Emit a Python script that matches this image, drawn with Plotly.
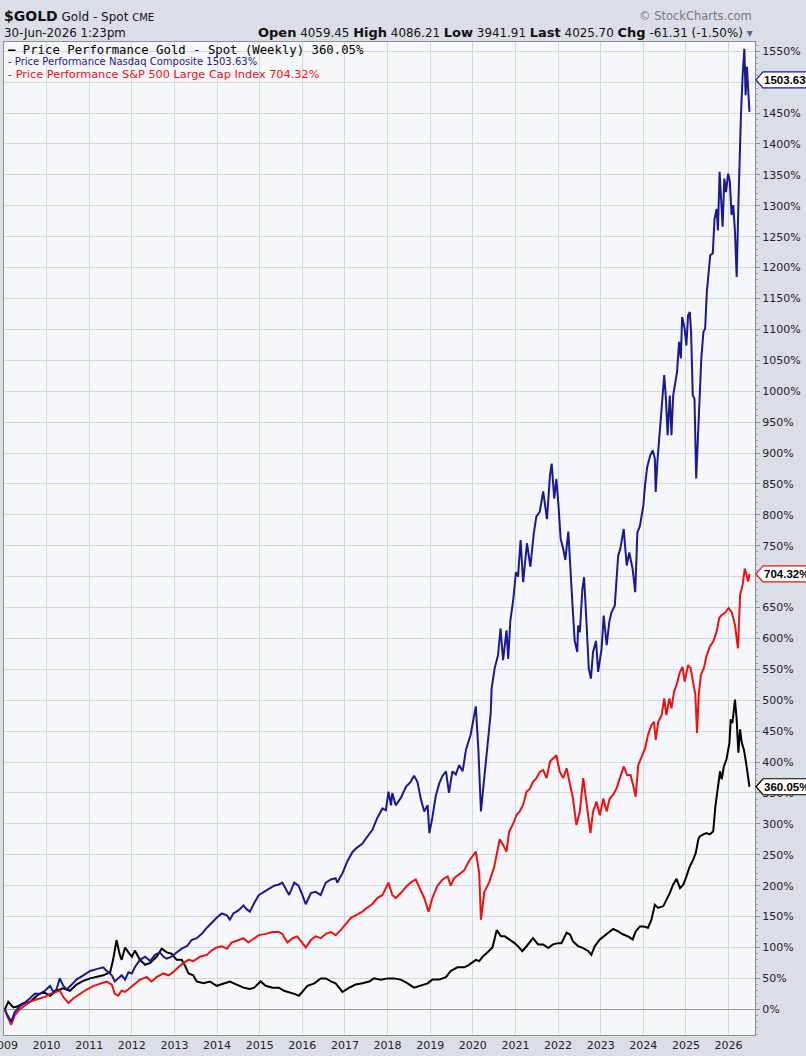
import plotly.graph_objects as go

# weekly price performance since Jan 2009 (decimal year, % change)
gold_years = [2009.02, 2009.10, 2009.22, 2009.33, 2009.45, 2009.61, 2009.77, 2009.92, 2010.08, 2010.23,
              2010.39, 2010.55, 2010.70, 2010.86, 2011.02, 2011.17, 2011.33, 2011.49, 2011.56, 2011.64,
              2011.71, 2011.76, 2011.84, 2011.92, 2012.00, 2012.07, 2012.19, 2012.31, 2012.43, 2012.58,
              2012.70, 2012.82, 2012.93, 2013.05, 2013.17, 2013.25, 2013.33, 2013.44, 2013.52, 2013.68,
              2013.83, 2013.99, 2014.15, 2014.30, 2014.46, 2014.62, 2014.77, 2014.87, 2015.02, 2015.14,
              2015.30, 2015.45, 2015.57, 2015.69, 2015.81, 2015.92, 2016.00, 2016.12, 2016.28, 2016.43,
              2016.55, 2016.67, 2016.78, 2016.94, 2017.10, 2017.25, 2017.41, 2017.57, 2017.68, 2017.84,
              2018.00, 2018.15, 2018.31, 2018.47, 2018.62, 2018.78, 2018.94, 2019.05, 2019.21, 2019.37,
              2019.48, 2019.64, 2019.80, 2019.91, 2020.07, 2020.15, 2020.23, 2020.34, 2020.46, 2020.56,
              2020.66, 2020.75, 2020.87, 2020.98, 2021.06, 2021.16, 2021.26, 2021.41, 2021.53, 2021.65,
              2021.77, 2021.88, 2022.00, 2022.08, 2022.20, 2022.28, 2022.35, 2022.47, 2022.59, 2022.71,
              2022.78, 2022.86, 2022.98, 2023.07, 2023.18, 2023.29, 2023.41, 2023.53, 2023.64, 2023.75,
              2023.82, 2023.92, 2024.01, 2024.11, 2024.19, 2024.27, 2024.35, 2024.47, 2024.54, 2024.62,
              2024.70, 2024.78, 2024.86, 2024.94, 2025.01, 2025.09, 2025.17, 2025.23, 2025.29, 2025.33,
              2025.41, 2025.48, 2025.56, 2025.64, 2025.69, 2025.76, 2025.80, 2025.84, 2025.89, 2025.95,
              2026.02, 2026.05, 2026.09, 2026.15, 2026.19, 2026.23, 2026.27, 2026.31, 2026.36, 2026.41,
              2026.45, 2026.49]
gold_pct = [0, 12, 3, 5, 10, 12, 22, 28, 22, 30,
            34, 30, 40, 46, 50, 53, 55, 60, 80, 112,
            90, 80, 100, 92, 85, 95, 80, 72, 75, 85,
            98, 92, 90, 80, 80, 70, 58, 55, 45, 42,
            45, 38, 42, 45, 40, 35, 33, 35, 45, 38,
            35, 35, 30, 28, 25, 22, 28, 38, 42, 50,
            50, 45, 42, 28, 35, 40, 42, 45, 50, 48,
            50, 50, 48, 42, 35, 38, 42, 48, 48, 52,
            62, 68, 68, 72, 80, 78, 85, 92, 100, 128,
            118, 118, 113, 107, 102, 94, 102, 115, 105, 105,
            99, 105, 107, 107, 124, 121, 110, 102, 99, 94,
            88, 102, 113, 118, 124, 130, 126, 121, 118, 113,
            126, 134, 134, 132, 145, 169, 164, 167, 177, 188,
            202, 211, 196, 202, 215, 231, 242, 253, 275, 280,
            283, 285, 283, 288, 328, 361, 385, 372, 393, 404,
            431, 469, 463, 501, 469, 415, 453, 431, 420, 399,
            377, 360.05]

nasdaq_years = [2009.02, 2009.07, 2009.17, 2009.25, 2009.37, 2009.48, 2009.61, 2009.72, 2009.84, 2009.96,
                2010.08, 2010.16, 2010.23, 2010.31, 2010.39, 2010.47, 2010.59, 2010.70, 2010.86, 2011.02,
                2011.17, 2011.33, 2011.41, 2011.53, 2011.60, 2011.68, 2011.76, 2011.84, 2011.92, 2012.00,
                2012.07, 2012.19, 2012.31, 2012.43, 2012.54, 2012.66, 2012.74, 2012.82, 2012.93, 2013.05,
                2013.17, 2013.29, 2013.40, 2013.52, 2013.64, 2013.76, 2013.87, 2013.99, 2014.11, 2014.23,
                2014.30, 2014.38, 2014.50, 2014.62, 2014.69, 2014.77, 2014.87, 2014.98, 2015.10, 2015.22,
                2015.34, 2015.45, 2015.53, 2015.61, 2015.69, 2015.81, 2015.91, 2016.00, 2016.08, 2016.20,
                2016.31, 2016.43, 2016.55, 2016.67, 2016.78, 2016.82, 2016.94, 2017.06, 2017.18, 2017.29,
                2017.41, 2017.53, 2017.64, 2017.76, 2017.88, 2017.96, 2018.02, 2018.08, 2018.11, 2018.19,
                2018.31, 2018.43, 2018.54, 2018.62, 2018.70, 2018.78, 2018.86, 2018.94, 2018.98, 2019.05,
                2019.13, 2019.21, 2019.29, 2019.37, 2019.44, 2019.52, 2019.60, 2019.68, 2019.76, 2019.84,
                2019.95, 2020.07, 2020.13, 2020.19, 2020.27, 2020.34, 2020.42, 2020.44, 2020.51, 2020.59,
                2020.65, 2020.71, 2020.79, 2020.83, 2020.88, 2020.95, 2021.01, 2021.06, 2021.12, 2021.18,
                2021.27, 2021.35, 2021.43, 2021.49, 2021.57, 2021.65, 2021.69, 2021.74, 2021.81, 2021.85,
                2021.91, 2021.96, 2022.01, 2022.06, 2022.12, 2022.17, 2022.24, 2022.28, 2022.31, 2022.35,
                2022.39, 2022.45, 2022.47, 2022.51, 2022.57, 2022.61, 2022.67, 2022.72, 2022.77, 2022.82,
                2022.89, 2022.94, 2023.02, 2023.07, 2023.14, 2023.20, 2023.25, 2023.33, 2023.41, 2023.46,
                2023.54, 2023.61, 2023.67, 2023.75, 2023.81, 2023.86, 2023.92, 2024.00, 2024.04, 2024.09,
                2024.16, 2024.22, 2024.27, 2024.29, 2024.33, 2024.39, 2024.43, 2024.49, 2024.53, 2024.57,
                2024.62, 2024.66, 2024.70, 2024.74, 2024.79, 2024.84, 2024.88, 2024.91, 2024.97, 2025.01,
                2025.05, 2025.09, 2025.12, 2025.16, 2025.20, 2025.24, 2025.28, 2025.32, 2025.36, 2025.41,
                2025.45, 2025.49, 2025.53, 2025.57, 2025.63, 2025.67, 2025.72, 2025.75, 2025.79, 2025.83,
                2025.86, 2025.90, 2025.94, 2025.99, 2026.03, 2026.07, 2026.11, 2026.15, 2026.19, 2026.23,
                2026.26, 2026.29, 2026.33, 2026.37, 2026.40, 2026.43, 2026.49]
nasdaq_pct = [0, -8, -20, -5, 5, 10, 18, 25, 25, 30,
              38, 28, 32, 50, 38, 32, 40, 48, 55, 62,
              65, 68, 62, 55, 45, 50, 55, 48, 60, 58,
              68, 80, 85, 78, 88, 92, 85, 82, 85, 92,
              98, 102, 112, 115, 122, 132, 140, 148, 155, 152,
              145, 155, 160, 168, 162, 158, 172, 185, 190, 195,
              200, 202, 205, 195, 185, 205, 200, 185, 170, 188,
              190, 185, 205, 210, 212, 205, 220, 240, 255, 262,
              268, 280, 290, 310, 325, 322, 352, 330, 350, 330,
              342, 360, 368, 378, 368, 340, 320, 330, 285, 310,
              345, 365, 378, 385, 350, 385, 380, 395, 385, 420,
              445, 490, 420, 320, 380, 420, 480, 519, 551, 573,
              616, 565, 613, 567, 629, 664, 707, 700, 759, 691,
              754, 716, 770, 797, 805, 838, 819, 793, 864, 883,
              826, 858, 815, 761, 745, 727, 773, 731, 688, 640,
              596, 578, 621, 610, 680, 699, 621, 551, 535, 578,
              596, 546, 583, 637, 589, 626, 642, 653, 734, 745,
              777, 718, 739, 712, 675, 771, 782, 815, 848, 877,
              896, 904, 891, 837, 886, 937, 985, 1026, 988, 929,
              993, 929, 993, 1010, 1031, 1080, 1053, 1120, 1101, 1074,
              1123, 1128, 1096, 993, 988, 859, 923, 999, 1053, 1096,
              1101, 1161, 1193, 1220, 1223, 1279, 1295, 1260, 1355, 1306,
              1266, 1344, 1322, 1352, 1339, 1285, 1301, 1258, 1185, 1301,
              1403, 1446, 1511, 1554, 1479, 1525, 1452]

spx_years = [2009.02, 2009.07, 2009.17, 2009.25, 2009.37, 2009.48, 2009.61, 2009.72, 2009.84, 2009.96,
             2010.08, 2010.20, 2010.31, 2010.39, 2010.51, 2010.63, 2010.78, 2010.94, 2011.10, 2011.25,
             2011.41, 2011.53, 2011.60, 2011.68, 2011.76, 2011.84, 2011.96, 2012.07, 2012.19, 2012.35,
             2012.46, 2012.58, 2012.74, 2012.86, 2012.97, 2013.09, 2013.21, 2013.33, 2013.44, 2013.60,
             2013.76, 2013.87, 2013.99, 2014.11, 2014.23, 2014.34, 2014.50, 2014.62, 2014.73, 2014.87,
             2014.98, 2015.14, 2015.30, 2015.45, 2015.53, 2015.65, 2015.77, 2015.88, 2016.00, 2016.08,
             2016.20, 2016.31, 2016.43, 2016.55, 2016.67, 2016.78, 2016.90, 2017.02, 2017.14, 2017.25,
             2017.41, 2017.53, 2017.64, 2017.76, 2017.88, 2018.02, 2018.11, 2018.19, 2018.31, 2018.43,
             2018.54, 2018.66, 2018.76, 2018.86, 2018.96, 2019.05, 2019.17, 2019.29, 2019.41, 2019.48,
             2019.56, 2019.68, 2019.80, 2019.91, 2020.07, 2020.15, 2020.19, 2020.27, 2020.38, 2020.50,
             2020.63, 2020.71, 2020.79, 2020.85, 2020.95, 2021.02, 2021.10, 2021.18, 2021.26, 2021.34,
             2021.41, 2021.49, 2021.57, 2021.65, 2021.73, 2021.81, 2021.88, 2021.96, 2022.04, 2022.12,
             2022.20, 2022.28, 2022.35, 2022.43, 2022.51, 2022.59, 2022.65, 2022.71, 2022.76, 2022.82,
             2022.90, 2022.98, 2023.06, 2023.14, 2023.21, 2023.29, 2023.37, 2023.45, 2023.54, 2023.62,
             2023.70, 2023.76, 2023.82, 2023.88, 2023.96, 2024.04, 2024.11, 2024.19, 2024.25, 2024.29,
             2024.35, 2024.43, 2024.49, 2024.54, 2024.61, 2024.66, 2024.72, 2024.78, 2024.86, 2024.92,
             2024.97, 2025.05, 2025.11, 2025.17, 2025.22, 2025.26, 2025.30, 2025.35, 2025.42, 2025.48,
             2025.56, 2025.64, 2025.72, 2025.78, 2025.84, 2025.91, 2026.00, 2026.07, 2026.15, 2026.22,
             2026.27, 2026.33, 2026.38, 2026.42, 2026.46, 2026.49]
spx_pct = [0, -10, -25, -10, 0, 5, 12, 15, 18, 20,
           25, 28, 30, 20, 10, 18, 25, 32, 38, 42,
           45, 40, 25, 22, 30, 28, 35, 42, 48, 52,
           45, 52, 58, 55, 60, 68, 75, 80, 78, 85,
           88, 95, 100, 102, 98, 108, 112, 115, 108, 115,
           120, 122, 125, 125, 122, 108, 115, 118, 108, 100,
           112, 118, 115, 122, 125, 120, 128, 138, 148, 152,
           158, 165, 170, 180, 185, 205, 185, 180, 188, 198,
           205, 210, 195, 180, 158, 180, 200, 210, 215, 200,
           212, 218, 225, 240, 255, 220, 145, 190, 205, 230,
           275, 266, 255, 287, 301, 314, 320, 331, 352, 357,
           368, 374, 384, 387, 374, 401, 406, 411, 384, 374,
           390, 363, 341, 298, 320, 374, 341, 309, 285, 320,
           336, 314, 341, 320, 341, 347, 357, 374, 393, 379,
           379, 363, 344, 395, 409, 422, 444, 460, 465, 436,
           465, 476, 503, 476, 503, 487, 514, 525, 546, 554,
           530, 557, 552, 525, 509, 447, 509, 541, 552, 571,
           587, 595, 611, 633, 638, 641, 649, 643, 622, 584,
           670, 687, 713, 703, 692, 704.32]

year_ticks = list(range(2009, 2027))
last_values = [1503.63, 704.32, 360.05]

gold_color = "#000000"
nasdaq_color = "#1a1a8e"
spx_color = "#ee1111"

fig = go.Figure()
fig.add_trace(go.Scatter(x=gold_years, y=gold_pct, mode="lines",
                         line=dict(color=gold_color, width=2), name="Gold"))
fig.add_trace(go.Scatter(x=spx_years, y=spx_pct, mode="lines",
                         line=dict(color=spx_color, width=2), name="S&P 500"))
fig.add_trace(go.Scatter(x=nasdaq_years, y=nasdaq_pct, mode="lines",
                         line=dict(color=nasdaq_color, width=2), name="Nasdaq"))

fig.update_layout(
    width=806, height=1056,
    margin=dict(l=4, r=51, t=42, b=21),
    paper_bgcolor="#dadfe7",
    plot_bgcolor="#f6f7fb",
    showlegend=False,
    font=dict(family="DejaVu Sans", size=11, color="#222"),
)
fig.update_xaxes(range=[2009.0, 2026.62], tickvals=year_ticks, ticktext=[str(y) for y in year_ticks],
                 showgrid=True, gridcolor="#d3d7de", gridwidth=1, zeroline=False,
                 showline=True, linecolor="#8a8f98", mirror=True, ticks="", automargin=False,
                 ticklabeloverflow="allow", tickfont=dict(size=11, color="#222"))
fig.update_yaxes(range=[-41.6, 1565], side="right", dtick=50, ticksuffix="%",
                 showgrid=True, gridcolor="#d3d7de", gridwidth=1,
                 zeroline=True, zerolinecolor="#9a9a9a", zerolinewidth=1,
                 showline=True, linecolor="#8a8f98", mirror=True,
                 ticks="outside", ticklen=4, tickcolor="#8a8f98",
                 minor=dict(dtick=10, ticks="outside", ticklen=2, tickcolor="#9aa0a8", showgrid=False),
                 automargin=False, tickfont=dict(size=11, color="#222"))

# last value tags on the right axis
for val, col in zip(last_values, [nasdaq_color, spx_color, gold_color]):
    fig.add_shape(type="path", xref="paper", yref="y", xsizemode="pixel", ysizemode="pixel",
                  xanchor=1, yanchor=val, path="M 1,0 L 8,8 L 60,8 L 60,-8 L 8,-8 Z",
                  fillcolor="white", line=dict(color=col, width=1.2), layer="above")
    fig.add_annotation(x=1, xref="paper", y=val, yref="y", xanchor="left", yanchor="middle",
                       xshift=7, text=f"<b>{val:.2f}%</b>", showarrow=False,
                       font=dict(family="Liberation Sans", size=11.5, color="#000"))

# header
fig.add_annotation(x=0, xref="paper", y=1.0262, yref="paper", xanchor="left", yanchor="middle",
                   xshift=-2, showarrow=False,
                   text="<b><span style='font-size:14px'>$GOLD</span></b> Gold - Spot "
                        "<span style='font-size:10px'>CME</span>",
                   font=dict(family="DejaVu Sans", size=12, color="#111"))
fig.add_annotation(x=0, xref="paper", y=1.0095, yref="paper", xanchor="left", yanchor="middle",
                   xshift=-2, showarrow=False, text="30-Jun-2026 1:23pm",
                   font=dict(family="DejaVu Sans", size=11.8, color="#111"))
fig.add_annotation(x=1, xref="paper", y=1.0095, yref="paper", xanchor="right", yanchor="middle",
                   xshift=0, showarrow=False,
                   text="<b><span style='font-size:13px'>Open</span></b> 4059.45 "
                        "<b><span style='font-size:13px'>High</span></b> 4086.21 "
                        "<b><span style='font-size:13px'>Low</span></b> 3941.91 "
                        "<b><span style='font-size:13px'>Last</span></b> 4025.70 "
                        "<b><span style='font-size:13px'>Chg</span></b> -61.31 (-1.50%) "
                        "<span style='color:#4a6a9a'>▾</span>",
                   font=dict(family="DejaVu Sans", size=11.9, color="#111"))
fig.add_annotation(x=1, xref="paper", y=1.0262, yref="paper", xanchor="right", yanchor="middle",
                   xshift=-1, showarrow=False, text="© StockCharts.com",
                   font=dict(family="DejaVu Sans", size=11.5, color="#777"))

# in-chart legend
legend_rows = [
    ("<b>—</b> Price Performance Gold - Spot (Weekly) 360.05%", gold_color, "DejaVu Sans Mono", 12.3, 0.9917),
    ("- Price Performance Nasdaq Composite 1503.63%", nasdaq_color, "DejaVu Sans", 10, 0.9800),
    ("- Price Performance S&P 500 Large Cap Index 704.32%", spx_color, "DejaVu Sans", 11.3, 0.9675),
]
for text, col, family, size, ypos in legend_rows:
    fig.add_annotation(x=0, xref="paper", y=ypos, yref="paper", xanchor="left", yanchor="middle",
                       xshift=2, showarrow=False, text=text,
                       font=dict(family=family, size=size, color=col))

# page body has an 8px default margin; drop it so the figure sits at the window corner
fig.write_html("out.html", config={"displayModeBar": False},
               post_script="document.body.style.margin='0px';")
